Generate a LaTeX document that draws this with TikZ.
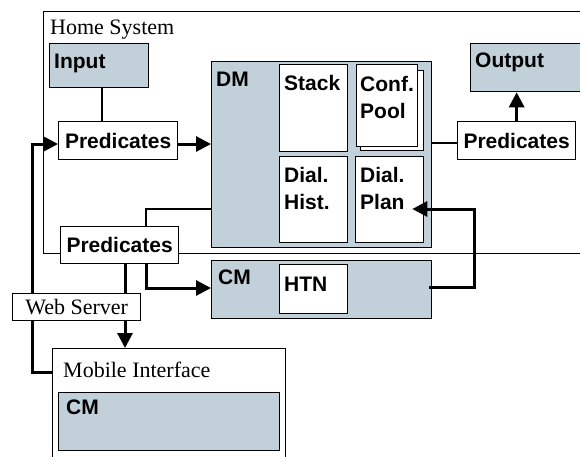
\documentclass[tikz,border=0pt]{standalone}
\usepackage{fontspec}
\setmainfont{Liberation Serif}
\setsansfont{Liberation Sans}
\usetikzlibrary{arrows.meta}
\definecolor{bluegray}{RGB}{194,209,217}
\newcommand\sfbx{\sffamily\bfseries\fontsize{21}{27}\selectfont}
\newcommand\serx{\rmfamily\fontsize{22}{26}\selectfont}
\begin{document}
\begin{tikzpicture}[x=1pt,y=-1pt,
  blk/.style={draw, line width=1.3pt, fill=bluegray, anchor=north west, inner sep=0pt},
  wbox/.style={draw, line width=1.3pt, fill=white, anchor=north west, inner sep=0pt},
  pbox/.style={draw, line width=1.3pt, fill=white, anchor=north west, inner sep=0pt, font=\sfbx},
  lab/.style={font=\sfbx, anchor=base west, inner sep=0pt, align=left},
  slab/.style={font=\serx, anchor=base west, inner sep=0pt},
  thinline/.style={line width=1.5pt},
  thickline/.style={line width=3pt},
  arr/.style={line width=3pt, -{Triangle[length=15pt,width=15pt]}}]
\clip (0,0) rectangle (580,456);
\fill[white] (0,0) rectangle (580,456);
% Home system
\node[wbox, fill=none, minimum width=600pt, minimum height=242pt] (home) at (43,11) {};
\node[slab] (homelab) at (50,34) {Home System};
% Input / Output
\node[blk, minimum width=99pt, minimum height=44pt] (input) at (49,43) {};
\node[lab] (inputlab) at (54,68) {Input};
\node[blk, minimum width=130pt, minimum height=48pt] (output) at (470,43) {};
\node[lab] (outputlab) at (475,67) {Output};
% DM
\node[blk, minimum width=220pt, minimum height=186pt] (dm) at (211,61) {};
\node[lab] (dmlab) at (216,86) {DM};
\node[wbox, minimum width=68pt, minimum height=87pt] (stack) at (279,64) {};
\node[lab] (stacklab) at (284,90) {Stack};
\node[wbox, minimum width=63pt, minimum height=80pt] (confback) at (360,70) {};
\node[wbox, minimum width=61pt, minimum height=82pt] (conf) at (356,64) {};
\node[lab] (conflab) at (360,118) {Conf.\\Pool};
\node[wbox, minimum width=68pt, minimum height=86pt] (hist) at (279,156) {};
\node[lab] (histlab) at (284,209) {Dial.\\Hist.};
\node[wbox, minimum width=68pt, minimum height=86pt] (plan) at (355,156) {};
\node[lab] (planlab) at (360,209) {Dial.\\Plan};
% CM home
\node[blk, minimum width=220pt, minimum height=58pt] (cm) at (211,260) {};
\node[lab] (cmlab) at (218,284) {CM};
\node[wbox, minimum width=68pt, minimum height=49pt] (htn) at (279,264) {};
\node[lab] (htnlab) at (284,291) {HTN};
% Predicates
\node[pbox, minimum width=119pt, minimum height=38pt] (pred1) at (58,121) {Predicates};
\node[pbox, minimum width=118pt, minimum height=38pt] (pred2) at (457,121) {Predicates};
% Mobile
\node[wbox, minimum width=233pt, minimum height=130pt] (mobile) at (52,348) {};
\node[slab] (mobilelab) at (63,377) {Mobile Interface};
\node[blk, minimum width=221pt, minimum height=58pt] (cm2) at (58,392) {};
\node[lab] (cm2lab) at (66,414) {CM};
% coordinates
\coordinate (inx) at (102,0);
\coordinate (lb) at (32,372);
\coordinate (lt) at (32,144);
\coordinate (dp) at (146,209);
\coordinate (pc) at (146,288);
\coordinate (wx) at (125,0);
\coordinate (r1) at (474,287);
\coordinate (r2) at (474,209);
\coordinate (y143) at (0,143);
% connectors (under boxes drawn later)
\draw[thinline] (input.south -| inx) -- (pred1.north -| inx);
\draw[arr] (lt -| pred1.east) -- (lt -| dm.west);
\draw[thinline] (y143 -| dm.east) -- (y143 -| pred2.west);
\draw[arr] (pred2.north) -- (pred2.north |- output.south);
\draw[thinline] (dp -| dm.west) -- (dp) -- (pc |- 0,226);
\draw[arr] (lb -| mobile.west) -- (lb) -- (lt) -- (lt -| pred1.west);
\draw[arr] (pc |- 0,240) -- (pc) -- (pc -| cm.west);
\draw[thickline] (wx |- 0,250) -- (wx |- 0,300);
\draw[arr, shorten >=-12pt] (r1 -| cm.east) ++(-3,0) -- (r1) -- (r2) -- (r2 -| plan.east);
% boxes over connectors
\node[pbox, minimum width=118pt, minimum height=37pt] (pred3) at (60,226) {Predicates};
\node[pbox, font=\serx, minimum width=128pt, minimum height=27pt] (web) at (12,293) {Web Server};
\draw[arr] (web.south -| wx) -- (mobile.north -| wx);
\end{tikzpicture}
\end{document}
